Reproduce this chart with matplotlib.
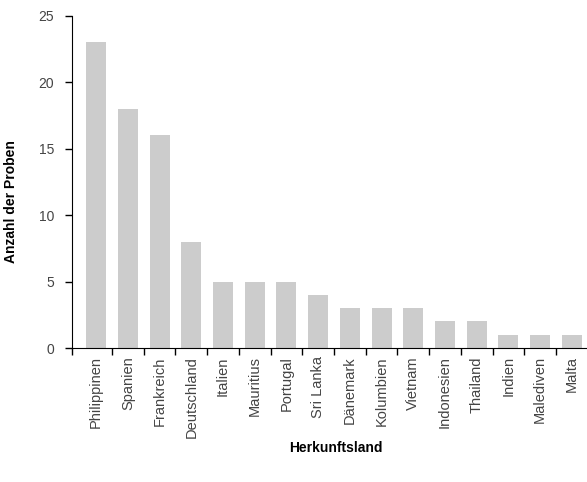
import numpy as np
import matplotlib.pyplot as plt

plt.rcParams['font.family'] = ['Liberation Sans', 'DejaVu Sans']

countries = ["Philippinen", "Spanien", "Frankreich", "Deutschland", "Italien",
             "Mauritius", "Portugal", "Sri Lanka", "Dänemark", "Kolumbien",
             "Vietnam", "Indonesien", "Thailand", "Indien", "Malediven", "Malta"]
counts = [23, 18, 16, 8, 5, 5, 5, 4, 3, 3, 3, 2, 2, 1, 1, 1]

fig = plt.figure(figsize=(5.87, 4.82), dpi=100)
ax = fig.add_axes([0.1227, 0.278, 0.877, 0.689])

x = np.arange(len(countries))
ax.bar(x, counts, width=0.63, color="#cccccc")

ax.set_xlim(-0.76, 15.47)
ax.set_ylim(0, 25)
ax.set_yticks([0, 5, 10, 15, 20, 25])

ax.set_xticks(x)
ax.set_xticklabels(countries, rotation=90, color="#444444", fontsize=10.5)
ax.tick_params(axis="x", which="major", length=0, pad=6)
# tick marks sit between the bars
ax.set_xticks(np.concatenate([[-0.76], x[:-1] + 0.5]), minor=True)
ax.tick_params(axis="x", which="minor", length=5, width=1, direction="out")
ax.tick_params(axis="y", length=5, width=1, labelcolor="#444444", labelsize=10, pad=8)

for s in ["top", "right"]:
    ax.spines[s].set_visible(False)

ax.set_ylabel("Anzahl der Proben", fontsize=10, fontweight="bold")
ax.yaxis.set_label_coords(-0.105, 0.44)
ax.set_xlabel("Herkunftsland", fontsize=10, fontweight="bold")
ax.xaxis.set_label_coords(0.513, -0.28)

fig.savefig("out.png", dpi=100)
